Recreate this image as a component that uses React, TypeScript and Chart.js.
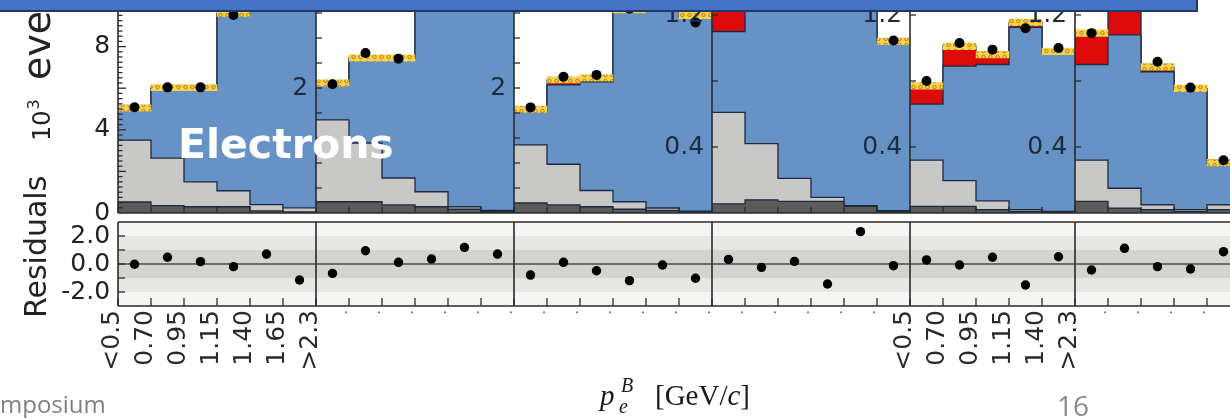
import React, { useEffect, useRef } from 'react';
import { Chart, registerables } from 'chart.js';

Chart.register(...registerables);

// ---------------- data (10^3 events per bin, per panel) ----------------
const panelBinCounts = [6, 6, 6, 6, 5, 5];
const panel1EdgeLabels = ['<0.5', '0.70', '0.95', '1.15', '1.40', '1.65', '>2.3'];
const panel5EdgeLabels = ['<0.5', '0.70', '0.95', '1.15', '1.40', '>2.3'];

const darkBkg = [
  [0.53, 0.35, 0.30, 0.30, 0.10, 0.05],
  [0.18, 0.18, 0.13, 0.10, 0.06, 0.02],
  [0.16, 0.13, 0.10, 0.06, 0.04, 0.02],
  [0.055, 0.08, 0.07, 0.07, 0.04, 0.01],
  [0.04, 0.04, 0.02, 0.01, 0.005],
  [0.07, 0.03, 0.02, 0.01, 0.02],
];
const lightBkg = [
  [2.97, 2.29, 1.20, 0.77, 0.30, 0.20],
  [1.31, 0.94, 0.43, 0.24, 0.04, 0.02],
  [0.93, 0.65, 0.26, 0.12, 0.04, 0.01],
  [0.555, 0.34, 0.14, 0.025, 0.005, 0.005],
  [0.28, 0.156, 0.053, 0.01, 0.005],
  [0.25, 0.12, 0.03, 0.01, 0.03],
];
const blueSig = [
  [1.55, 3.39, 4.53, 8.53, 12.1, 10.75],
  [0.59, 1.36, 1.92, 3.36, 3.9, 3.56],
  [0.53, 1.27, 1.74, 3.04, 3.72, 3.11],
  [0.49, 1.03, 1.34, 1.505, 1.355, 1.015],
  [0.34, 0.694, 0.827, 1.105, 0.96],
  [0.58, 0.93, 0.806, 0.725, 0.25],
];
const redSig = [
  [0, 0, 0, 0, 0, 0],
  [0, 0, 0, 0, 0, 0],
  [0.04, 0.08, 0.06, 0.03, 0.05, 0.02],
  [0.16, 0.05, 0.05, 0.05, 0.05, 0.01],
  [0.11, 0.12, 0.06, 0.03, 0.01],
  [0.19, 0.20, 0.03, 0.01, 0.005],
];
const dataVals = [
  [5.08, 6.04, 6.04, 9.52, 12.6, 10.9],
  [2.06, 2.56, 2.47, 3.75, 4.15, 3.7],
  [1.69, 2.18, 2.21, 3.27, 3.8, 3.05],
  [1.27, 1.5, 1.6, 1.62, 1.5, 1.045],
  [0.80, 1.03, 0.99, 1.12, 1.00],
  [1.09, 1.3, 0.917, 0.76, 0.32],
];
const mcErr = [
  [0.15, 0.15, 0.15, 0.15, 0.15, 0.15],
  [0.05, 0.05, 0.05, 0.05, 0.05, 0.05],
  [0.05, 0.05, 0.05, 0.05, 0.05, 0.05],
  [0.02, 0.02, 0.02, 0.02, 0.02, 0.02],
  [0.02, 0.02, 0.02, 0.02, 0.02],
  [0.02, 0.02, 0.02, 0.02, 0.02],
];
const residualVals = [
  [-0.02, 0.48, 0.17, -0.19, 0.71, -1.14],
  [-0.67, 0.95, 0.12, 0.36, 1.19, 0.71],
  [-0.79, 0.12, -0.48, -1.19, -0.07, -1.02],
  [0.33, -0.24, 0.19, -1.43, 2.31, -0.12],
  [0.29, -0.07, 0.48, -1.50, 0.52],
  [-0.43, 1.12, -0.19, -0.36, 0.88],
];

// tick labels shown on each upper-panel axis
const upperLabelVals = [[0, 4, 8], [2], [2], [0.4, 1.2], [0.4, 1.2], [0.4, 1.2]];
const upperLabelStep = [4, 2, 2, 0.4, 0.4, 0.4];
const upperLabelDigits = [0, 0, 0, 1, 1, 1];
const residualLabelVals = [-2, 0, 2];

// ---------------- layout / style ----------------
const CANVAS_W = 1230;
const CANVAS_H = 418;
const PLOT_LEFT = 118;
const PLOT_BOTTOM = 306;
const UPPER_ZERO = 213;
const RES_ZERO = 264;
const BIN_PX = 33;
const upperPxPerUnit = [20.8, 62.5, 62.5, 165, 165, 165];
const RES_PX_PER_UNIT = 14;
const X_MAX = (CANVAS_W - PLOT_LEFT) / BIN_PX;

const upperTickStep = [0.25, 0.4, 0.4, 0.4, 0.4, 0.4];
const upperMajorStep = [2, 0.4, 0.4, 0.4, 0.4, 0.4];
const upperMajorLen = [8, 6, 6, 6, 6, 6];
const upperMinorLen = [4.5, 6, 6, 6, 6, 6];

const OUTLINE = '#1d2940';
const FRAME = '#2a2a2a';
const C_DARK = '#5b5b5b';
const C_LIGHT = '#c8c9c6';
const C_BLUE = '#6792c6';
const C_RED = '#dc0a0a';
const TICK_TXT = '#222222';
const PANEL_TXT = '#1d2b3f';
const LABEL_GAP = ' ';

const panelStarts: number[] = panelBinCounts.map((_, i) =>
  panelBinCounts.slice(0, i).reduce((a, b) => a + b, 0)
);

const near = (a: number, b: number) => Math.abs(a - b) < 1e-6;

function xLabel(v: number): string {
  if (!near(v, Math.round(v))) return '';
  const e = Math.round(v);
  const s0 = panelStarts[0];
  const s4 = panelStarts[4];
  if (e >= s0 && e <= s0 + panelBinCounts[0]) return panel1EdgeLabels[e - s0];
  if (e >= s4 && e <= s4 + panelBinCounts[4]) return panel5EdgeLabels[e - s4];
  return '.';
}

function makePattern(): CanvasPattern | string {
  const pc = document.createElement('canvas');
  pc.width = 7;
  pc.height = 6;
  const g = pc.getContext('2d');
  if (!g) return '#f3d54e';
  g.fillStyle = '#f3d54e';
  g.fillRect(0, 0, 7, 6);
  g.strokeStyle = '#c57a12';
  g.lineWidth = 1;
  g.beginPath();
  g.arc(3.5, 3, 1.7, 0, Math.PI * 2);
  g.stroke();
  return g.createPattern(pc, 'repeat') || '#f3d54e';
}

const decorPlugin = {
  id: 'decor',
  beforeDatasetsDraw(chart: any) {
    const { ctx, chartArea, scales } = chart;
    const r = scales.yRes;
    const band = (a: number, b: number, color: string) => {
      const ya = r.getPixelForValue(a);
      const yb = r.getPixelForValue(b);
      ctx.fillStyle = color;
      ctx.fillRect(chartArea.left, Math.min(ya, yb), chartArea.right - chartArea.left, Math.abs(yb - ya));
    };
    ctx.save();
    band(-3, 3, '#f5f5f4');
    band(-2, 2, '#e6e6e3');
    band(-1, 1, '#d3d3cf');
    const y0 = r.getPixelForValue(0);
    ctx.strokeStyle = '#4a4a4a';
    ctx.lineWidth = 1.6;
    ctx.beginPath();
    ctx.moveTo(chartArea.left, y0);
    ctx.lineTo(chartArea.right, y0);
    ctx.stroke();
    ctx.restore();
  },
  afterDatasetsDraw(chart: any) {
    const { ctx, chartArea, scales } = chart;
    const x = scales.x;
    const r = scales.yRes;
    const zeroY = scales.u0.getPixelForValue(0);
    const resTop = r.getPixelForValue(3);
    const resBot = r.getPixelForValue(-3);
    const left = chartArea.left;
    const right = chartArea.right;
    const line = (x1: number, y1: number, x2: number, y2: number) => {
      ctx.beginPath();
      ctx.moveTo(x1, y1);
      ctx.lineTo(x2, y2);
      ctx.stroke();
    };
    ctx.save();
    ctx.strokeStyle = FRAME;
    ctx.lineWidth = 1.3;
    for (let e = 0; e <= Math.floor(X_MAX); e++) {
      const px = x.getPixelForValue(e);
      line(px, zeroY, px, zeroY - 6);
      line(px, resBot, px, resBot - 8);
    }
    panelStarts.forEach((s, p) => {
      const sc = scales['u' + p];
      const px = x.getPixelForValue(s);
      for (let k = 1; k < 200; k++) {
        const v = k * upperTickStep[p];
        const py = sc.getPixelForValue(v);
        if (py < 0) break;
        const q = v / upperMajorStep[p];
        const len = near(q, Math.round(q)) ? upperMajorLen[p] : upperMinorLen[p];
        line(px, py, px + len, py);
      }
    });
    for (let v = -2; v <= 2; v++) {
      const py = r.getPixelForValue(v);
      line(left, py, left + 7, py);
    }
    ctx.lineWidth = 1.6;
    line(left, zeroY, right, zeroY);
    line(left, resTop, right, resTop);
    line(left, resBot, right, resBot);
    panelStarts.forEach((s) => {
      const px = x.getPixelForValue(s);
      line(px, 0, px, zeroY);
      line(px, resTop, px, resBot);
    });
    ctx.restore();
  },
  afterDraw(chart: any) {
    const { ctx } = chart;
    ctx.save();
    ctx.textAlign = 'left';
    ctx.textBaseline = 'alphabetic';

    // y title (rotated)
    ctx.save();
    ctx.fillStyle = '#222';
    ctx.translate(50, 141);
    ctx.rotate(-Math.PI / 2);
    ctx.font = '24px "DejaVu Sans"';
    ctx.fillText('10', 0, 0);
    const w10 = ctx.measureText('10').width;
    ctx.font = '16px "DejaVu Sans"';
    ctx.fillText('3', w10 + 1, -11);
    ctx.font = '38px "DejaVu Sans"';
    ctx.fillText('events', 61, 0);
    ctx.restore();

    // Residuals
    ctx.save();
    ctx.fillStyle = '#222';
    ctx.translate(46, 318);
    ctx.rotate(-Math.PI / 2);
    ctx.font = '30px "DejaVu Sans"';
    ctx.fillText('Residuals', 0, 0);
    ctx.restore();

    // x title
    ctx.fillStyle = '#1a1a1a';
    ctx.font = 'italic 29px "Liberation Serif"';
    ctx.fillText('p', 600, 405);
    ctx.font = 'italic 20px "Liberation Serif"';
    ctx.fillText('B', 621, 392);
    ctx.fillText('e', 619, 413);
    let cx = 655;
    ctx.font = '29px "Liberation Serif"';
    ctx.fillText('[GeV/', cx, 405);
    cx += ctx.measureText('[GeV/').width;
    ctx.font = 'italic 29px "Liberation Serif"';
    ctx.fillText('c', cx, 405);
    cx += ctx.measureText('c').width;
    ctx.font = '29px "Liberation Serif"';
    ctx.fillText(']', cx, 405);

    // slide overlay texts
    ctx.fillStyle = '#ffffff';
    ctx.font = 'bold 41px "DejaVu Sans"';
    ctx.fillText('Electrons', 178, 158);

    ctx.fillStyle = '#808080';
    ctx.font = '24px "Open Sans"';
    ctx.fillText('mposium', 0, 413);
    ctx.fillStyle = '#8a8a8a';
    ctx.font = '28px "Open Sans"';
    ctx.fillText('16', 1057, 416);
    ctx.restore();
  },
};

function buildConfig(pattern: CanvasPattern | string): any {
  const datasets: any[] = [];
  panelBinCounts.forEach((n, p) => {
    const s = panelStarts[p];
    const yID = 'u' + p;
    const c1 = darkBkg[p].slice(0, n);
    const c2 = c1.map((v, i) => v + lightBkg[p][i]);
    const c3 = c2.map((v, i) => v + blueSig[p][i]);
    const c4 = c3.map((v, i) => v + redSig[p][i]);
    const step = (vals: number[]) => [
      ...vals.map((v, i) => ({ x: s + i, y: v })),
      { x: s + n, y: vals[n - 1] },
    ];
    const layers: [number[], string, number][] = [
      [c4, C_RED, 60],
      [c3, C_BLUE, 50],
      [c2, C_LIGHT, 40],
      [c1, C_DARK, 30],
    ];
    layers.forEach(([vals, color, order]) => {
      datasets.push({
        type: 'line',
        data: step(vals),
        xAxisID: 'x',
        yAxisID: yID,
        stepped: 'before',
        fill: 'origin',
        backgroundColor: color,
        borderColor: OUTLINE,
        borderWidth: 1.3,
        pointRadius: 0,
        order,
      });
    });
    datasets.push({
      type: 'bar',
      data: c4.map((t, i) => ({ x: s + i + 0.5, y: [t - mcErr[p][i], t + mcErr[p][i]] })),
      xAxisID: 'x',
      yAxisID: yID,
      backgroundColor: pattern,
      borderWidth: 0,
      barPercentage: 1,
      categoryPercentage: 1,
      grouped: false,
      order: 20,
    });
    datasets.push({
      type: 'line',
      showLine: false,
      data: dataVals[p].map((v, i) => ({ x: s + i + 0.5, y: v })),
      xAxisID: 'x',
      yAxisID: yID,
      pointRadius: 5,
      pointBackgroundColor: '#000',
      pointBorderWidth: 0,
      order: 10,
    });
    datasets.push({
      type: 'line',
      showLine: false,
      data: residualVals[p].map((v, i) => ({ x: s + i + 0.5, y: v })),
      xAxisID: 'x',
      yAxisID: 'yRes',
      pointRadius: 4.7,
      pointBackgroundColor: '#000',
      pointBorderWidth: 0,
      order: 10,
    });
  });

  const zeroPadding = (sc: any) => {
    sc.paddingTop = 0;
    sc.paddingBottom = 0;
    sc.paddingLeft = 0;
    sc.paddingRight = 0;
  };

  const scales: any = {
    x: {
      type: 'linear',
      axis: 'x',
      position: 'bottom',
      min: 0,
      max: X_MAX,
      offset: false,
      grid: { display: false, drawTicks: false },
      border: { display: false },
      ticks: {
        z: 1,
        stepSize: 1,
        maxTicksLimit: 1000,
        autoSkip: false,
        includeBounds: false,
        minRotation: 90,
        maxRotation: 90,
        padding: 4,
        labelOffset: -6,
        font: (c: any) => ({
          family: '"DejaVu Sans", sans-serif',
          size: c.tick && xLabel(c.tick.value) === '.' ? 15 : 25,
        }),
        color: (c: any) => (c.tick && xLabel(c.tick.value) === '.' ? '#777' : '#2a2a2a'),
        callback: (v: any) => xLabel(Number(v)),
      },
      afterFit: (sc: any) => {
        sc.height = CANVAS_H - PLOT_BOTTOM;
        zeroPadding(sc);
      },
    },
    yRes: {
      type: 'linear',
      axis: 'y',
      position: { x: 0 },
      min: -(PLOT_BOTTOM - RES_ZERO) / RES_PX_PER_UNIT,
      max: RES_ZERO / RES_PX_PER_UNIT,
      grid: { display: false, drawTicks: false },
      border: { display: false },
      ticks: {
        z: 1,
        stepSize: 1,
        maxTicksLimit: 1000,
        autoSkip: false,
        includeBounds: false,
        padding: 8,
        color: TICK_TXT,
        font: { family: '"DejaVu Sans", sans-serif', size: 25 },
        callback: (v: any) =>
          residualLabelVals.some((t) => near(t, Number(v))) ? Number(v).toFixed(1) + LABEL_GAP : '',
      },
      afterFit: zeroPadding,
    },
  };
  panelBinCounts.forEach((_, p) => {
    const ppu = upperPxPerUnit[p];
    scales['u' + p] = {
      type: 'linear',
      axis: 'y',
      position: { x: panelStarts[p] },
      min: -(PLOT_BOTTOM - UPPER_ZERO) / ppu,
      max: UPPER_ZERO / ppu,
      grid: { display: false, drawTicks: false },
      border: { display: false },
      ticks: {
        z: 1,
        stepSize: upperLabelStep[p],
        maxTicksLimit: 1000,
        autoSkip: false,
        includeBounds: false,
        padding: 9,
        color: p === 0 ? TICK_TXT : PANEL_TXT,
        font: { family: '"DejaVu Sans", sans-serif', size: 25 },
        callback: (v: any) =>
          upperLabelVals[p].some((t) => near(t, Number(v)))
            ? Number(v).toFixed(upperLabelDigits[p]) + LABEL_GAP
            : '',
      },
      afterFit: zeroPadding,
    };
  });

  return {
    type: 'line',
    data: { datasets },
    options: {
      responsive: false,
      maintainAspectRatio: false,
      animation: false,
      events: [],
      devicePixelRatio: 1,
      layout: { autoPadding: false, padding: { left: PLOT_LEFT, top: 0, right: 0, bottom: 0 } },
      plugins: {
        legend: { display: false },
        tooltip: { enabled: false },
        title: { display: false },
      },
      scales,
    },
    plugins: [decorPlugin],
  };
}

export default function App() {
  const ref = useRef<HTMLCanvasElement>(null);
  useEffect(() => {
    const canvas = ref.current;
    if (!canvas) return;
    const chart = new Chart(canvas, buildConfig(makePattern()));
    return () => chart.destroy();
  }, []);
  return (
    <div
      style={{
        position: 'fixed',
        left: 0,
        top: 0,
        width: CANVAS_W,
        height: CANVAS_H,
        overflow: 'hidden',
        background: '#ffffff',
      }}
    >
      <canvas ref={ref} width={CANVAS_W} height={CANVAS_H} style={{ display: 'block' }} />
      <div
        style={{
          position: 'absolute',
          left: 0,
          top: 0,
          width: 1196,
          height: 10,
          background: '#4472c4',
          borderRight: '2px solid #1f3864',
          borderBottom: '2px solid #1f3864',
        }}
      />
    </div>
  );
}
